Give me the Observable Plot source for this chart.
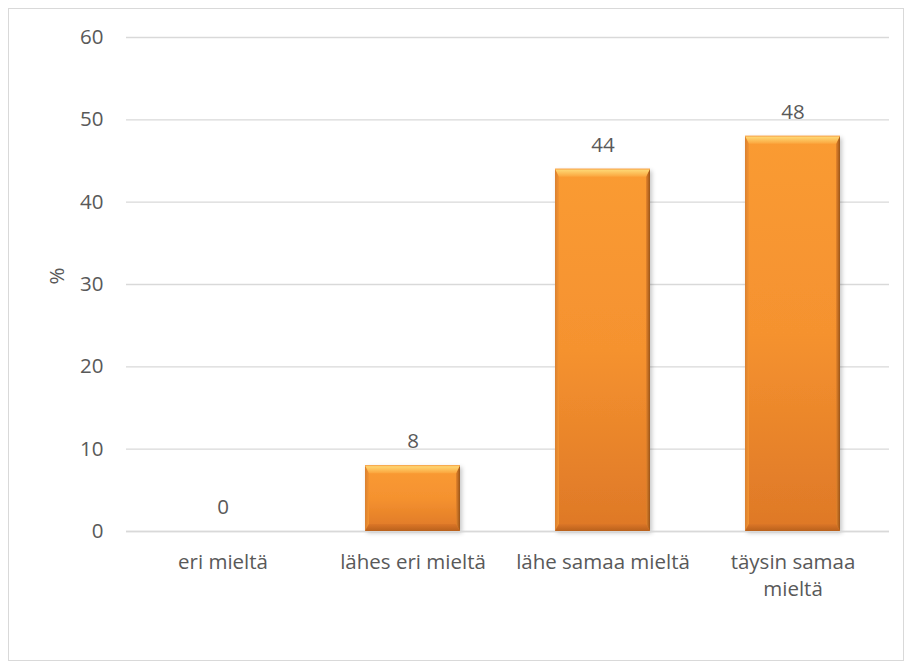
<!DOCTYPE html>
<html>
<head>
<meta charset="utf-8">
<script src="https://cdn.jsdelivr.net/npm/d3@7"></script>
<script src="https://cdn.jsdelivr.net/npm/@observablehq/plot@0.6"></script>
<style>
  html, body { margin: 0; padding: 0; background: #fff; }
  #wrap { position: relative; width: 911px; height: 670px; }
  #frame {
    position: absolute; left: 8px; top: 8px; width: 896px; height: 653px;
    border: 1px solid #d9d9d9; box-sizing: border-box; pointer-events: none;
  }
  #chart { position: absolute; left: 0; top: 0; }
</style>
</head>
<body>
<div id="wrap">
  <div id="chart"></div>
  <div id="frame"></div>
</div>
<script>
// Survey answers: share of respondents (%) per answer option
const categories = ["eri mieltä", "lähes eri mieltä", "lähe samaa mieltä", "täysin samaa mieltä"];
const tickLabels = ["eri mieltä", "lähes eri mieltä", "lähe samaa mieltä", "täysin samaa\nmieltä"];
const percents = [0, 8, 44, 48];
const yTicks = [0, 10, 20, 30, 40, 50, 60];

const data = categories.map((c, i) => ({category: c, value: percents[i]}));
const labelOf = new Map(categories.map((c, i) => [c, tickLabels[i]]));

const font = "'Open Sans', Lato, sans-serif";
const textColor = "#595959";
const fs = 20.5;

const plot = Plot.plot({
  width: 911,
  height: 670,
  marginLeft: 126,
  marginRight: 22,
  marginTop: 37,
  marginBottom: 139,
  style: {fontFamily: font, fontSize: fs + "px", color: textColor, background: "transparent"},
  x: {domain: categories, paddingInner: 0.5, paddingOuter: 0.25, label: null},
  y: {domain: [0, 60], label: null},
  marks: [
    Plot.gridY(yTicks, {stroke: "#d9d9d9", strokeOpacity: 1, strokeWidth: 1.3}),
    Plot.axisY(yTicks, {tickSize: 0, tickPadding: 23, fill: textColor, fontSize: fs, label: null}),
    Plot.text(["%"], {frameAnchor: "left", dx: -69, rotate: -90, fill: textColor, fontSize: fs}),
    Plot.barY(data, {x: "category", y: "value", fill: "url(#barFace)", className: "bars"}),
    Plot.ruleY([0], {stroke: "#d9d9d9", strokeWidth: 1.3}),
    Plot.axisX({tickSize: 0, tickPadding: 18, fill: textColor, fontSize: fs, lineHeight: 1.33,
      tickFormat: d => labelOf.get(d), label: null}),
    Plot.text(data, {x: "category", y: "value", text: d => String(d.value), dy: -24,
      fill: textColor, fontSize: fs})
  ]
});

// Gradients, shadow and bevel styling for the bars
const svg = d3.select(plot);
const defs = svg.insert("defs", ":first-child");
function gradient(id, vertical, stops) {
  const g = defs.append("linearGradient").attr("id", id)
    .attr("x1", 0).attr("y1", 0).attr("x2", vertical ? 0 : 1).attr("y2", vertical ? 1 : 0);
  stops.forEach(([o, c]) => g.append("stop").attr("offset", o).attr("stop-color", c));
}
gradient("barFace", true, [["0%", "#fa9b33"], ["50%", "#f5922f"], ["100%", "#de7827"]]);
gradient("bevelTop", true, [["0%", "#f6a048"], ["20%", "#fed470"], ["100%", "#fba53d"]]);
gradient("bevelLeft", false, [["0%", "#d98030"], ["100%", "#f39432"]]);
gradient("bevelRight", false, [["0%", "#e5852c"], ["100%", "#9a5418"]]);
gradient("bevelBottom", true, [["0%", "#dc7627"], ["100%", "#b9611c"]]);

const shadow = defs.append("filter").attr("id", "barShadow")
  .attr("x", "-20%").attr("y", "-20%").attr("width", "140%").attr("height", "140%");
shadow.append("feDropShadow").attr("dx", 2).attr("dy", 2).attr("stdDeviation", 2)
  .attr("flood-color", "#000").attr("flood-opacity", 0.22);

const barGroup = svg.select("g.bars");
barGroup.attr("filter", "url(#barShadow)");
const bevel = svg.append("g").attr("class", "bevel");
barGroup.selectAll("rect").each(function() {
  const r = d3.select(this);
  const x0 = +r.attr("x"), y0 = +r.attr("y");
  const w = +r.attr("width"), h = +r.attr("height");
  if (!(h > 1)) { r.attr("display", "none"); return; }
  const x1 = x0 + w, y1 = y0 + h;
  const t = Math.min(8, h / 3), s = 4, bt = Math.min(7, h / 3);
  const poly = (pts, fill) => bevel.append("polygon")
    .attr("points", pts.map(p => p.join(",")).join(" ")).attr("fill", fill);
  poly([[x0, y0], [x0 + s, y0 + t], [x0 + s, y1 - bt], [x0, y1]], "url(#bevelLeft)");
  poly([[x1, y0], [x1, y1], [x1 - s, y1 - bt], [x1 - s, y0 + t]], "url(#bevelRight)");
  poly([[x0, y1], [x0 + s, y1 - bt], [x1 - s, y1 - bt], [x1, y1]], "url(#bevelBottom)");
  poly([[x0, y0], [x1, y0], [x1 - s, y0 + t], [x0 + s, y0 + t]], "url(#bevelTop)");
});

document.getElementById("chart").appendChild(plot);
</script>
</body>
</html>
